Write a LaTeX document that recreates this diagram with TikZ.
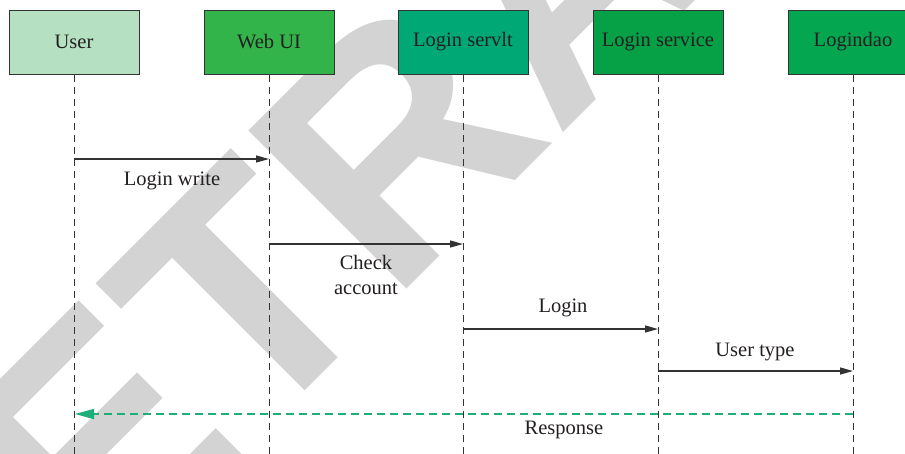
\documentclass[tikz,border=0pt]{standalone}
\usepackage{fontspec}
\setmainfont{Liberation Serif}
\newfontfamily\wmfont{Liberation Sans}
\usetikzlibrary{arrows.meta}
\definecolor{cUser}{HTML}{B5E0C1}
\definecolor{cWeb}{HTML}{32B44B}
\definecolor{cServlt}{HTML}{00A876}
\definecolor{cService}{HTML}{06A046}
\definecolor{cDao}{HTML}{04A650}
\definecolor{cResp}{HTML}{1DAF78}
\definecolor{cLine}{HTML}{333333}
\definecolor{cText}{HTML}{231F20}
\definecolor{cWm}{HTML}{D3D3D3}
\tikzset{
  actor/.style={draw=cLine, line width=1pt, minimum width=130pt, minimum height=64pt,
    inner sep=0pt, text=cText, font=\fontsize{20.5}{24}\selectfont},
  lifeline/.style={draw=cLine, line width=0.9pt, dash pattern=on 7pt off 5pt},
  msg/.style={draw=cLine, line width=1.3pt, -{Triangle[length=13pt,width=7pt]}},
  resp/.style={draw=cResp, line width=1.3pt, dash pattern=on 8pt off 5pt,
    -{Triangle[length=19pt,width=10pt]}},
  lbl/.style={text=cText, font=\fontsize{20.5}{25}\selectfont, align=center, inner sep=0pt}
}
\begin{document}
\begin{tikzpicture}[x=1pt,y=-1pt]
\useasboundingbox (0,0) rectangle (905,453);
\clip (0,0) rectangle (905,453);
% watermark
\node[anchor=base, rotate=45, text=cWm, inner sep=0pt,
  font=\wmfont\bfseries\fontsize{325}{325}\selectfont] (wm) at (640.5,55.5) {RETRACTED};
% actors
\node[actor, fill=cUser] (user) at (74,42) {User};
\node[actor, fill=cWeb] (web) at (269,42) {Web UI};
\node[actor, fill=cServlt] (servlt) at (463,42) {Login servlt};
\node[actor, fill=cService] (service) at (658,42) {Login service};
\node[actor, fill=cDao] (dao) at (853,42) {Logindao};
% lifeline ends
\coordinate (bottom) at (0,460);
\foreach \n in {user,web,servlt,service,dao}{
  \draw[lifeline] (\n.south) -- (\n.south |- bottom);
}
% message levels
\coordinate (m1) at (0,159);
\coordinate (m2) at (0,244);
\coordinate (m3) at (0,329);
\coordinate (m4) at (0,371);
\coordinate (m5) at (0,414);
\draw[msg] (user |- m1) -- (web |- m1);
\draw[msg] (web |- m2) -- (servlt |- m2);
\draw[msg] (servlt |- m3) -- (service |- m3);
\draw[msg] (service |- m4) -- (dao |- m4);
\draw[resp] (dao |- m5) -- ([xshift=1pt]user |- m5);
% labels
\node[lbl] (l1) at (172,181) {Login write};
\node[lbl] (l2) at (366,274.5) {Check\\account};
\node[lbl] (l3) at (563,308) {Login};
\node[lbl] (l4) at (755,352) {User type};
\node[lbl] (l5) at (564,430) {Response};
\end{tikzpicture}
\end{document}
